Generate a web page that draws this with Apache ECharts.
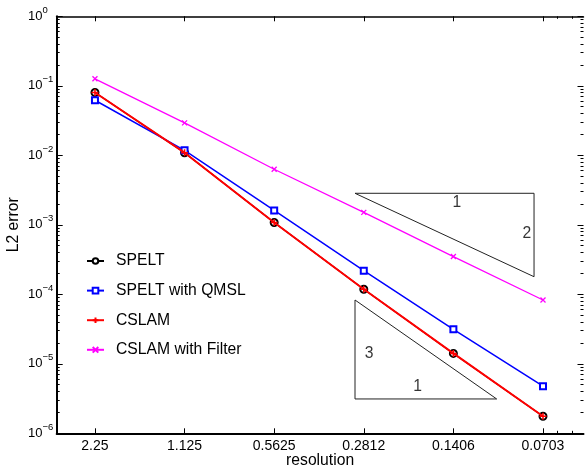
<!DOCTYPE html>
<html><head><meta charset="utf-8">
<script src="https://cdn.jsdelivr.net/npm/echarts@6/dist/echarts.min.js"></script>
<style>html,body{margin:0;padding:0;background:#fff}#c{width:585px;height:467px}</style>
</head><body><div id="c"></div><script>
const categories = ['2.25', '1.125', '0.5625', '0.2812', '0.1406', '0.0703'];
const spelt      = [0.080, 0.0109, 0.00108, 0.000118, 1.41e-5, 1.76e-6];
const speltQMSL  = [0.062, 0.0118, 0.00161, 0.000219, 3.13e-5, 4.76e-6];
const cslam      = [0.080, 0.0109, 0.00108, 0.000118, 1.41e-5, 1.76e-6];
const cslamFilt  = [0.126, 0.0293, 0.0063, 0.00151, 0.000349, 8.28e-5];
const yTicks = [1e-6, 1e-5, 1e-4, 1e-3, 1e-2, 1e-1, 1];
const xMinorTicks = [5.156, 5.324];
// slope triangles (data coordinates: category index, error)
const tri1 = [[2.902, 0.00284], [4.90, 0.00284], [4.90, 0.000179], [2.902, 0.00284]];
const tri2 = [[2.902, 8.28e-5], [2.902, 3.12e-6], [4.483, 3.12e-6], [2.902, 8.28e-5]];
const slopeText = [
  {name: '1', value: [4.04, 0.0021]},
  {name: '2', value: [4.82, 0.000734]},
  {name: '3', value: [3.06, 1.38e-5]},
  {name: '1', value: [3.60, 4.65e-6]}
];

const yMinor = [];
for (let e = -6; e < 0; e++) for (let m = 2; m <= 9; m++) yMinor.push(m * Math.pow(10, e));
const xIdx = categories.map((_, i) => i);
const FONT = 'Liberation Sans, Arial, Helvetica, sans-serif';
const toPts = arr => arr.map((v, i) => [i, v]);
const XMIN = -0.427, XMAX = 5.452;

function supLabel(v) {
  const e = Math.round(Math.log10(v));
  return '{b|10}{s|' + (e < 0 ? '\u2212' + (-e) : e) + '}';
}

const gridRect = {left: 56.7, right: 1.5, top: 16.3, bottom: 33.7, containLabel: false, outerBoundsMode: 'none'};
function xAx(gridIndex, position, ticks, len, line) {
  return {type: 'value', min: XMIN, max: XMAX, gridIndex: gridIndex, position: position,
    splitLine: {show: false},
    axisLine: line ? {show: true, onZero: false, lineStyle: {color: '#000', width: line}} : {show: false, onZero: false},
    axisTick: ticks ? {show: true, inside: true, length: len, customValues: ticks, lineStyle: {color: '#000', width: 1}} : {show: false},
    axisLabel: {show: false}};
}
function yAx(gridIndex, position, ticks, len, line) {
  return {type: 'log', logBase: 10, min: 1e-6, max: 1, gridIndex: gridIndex, position: position,
    splitLine: {show: false},
    axisLine: line ? {show: true, onZero: false, lineStyle: {color: '#000', width: line}} : {show: false, onZero: false},
    axisTick: ticks ? {show: true, inside: true, length: len, customValues: ticks, lineStyle: {color: '#000', width: 1}} : {show: false},
    axisLabel: {show: false}};
}

const xMain = xAx(0, 'bottom', null, 0, 2);
xMain.name = 'resolution';
xMain.nameLocation = 'middle';
xMain.nameGap = 19;
xMain.nameMoveOverlap = false;
xMain.nameTextStyle = {fontSize: 15.7, color: '#000', fontFamily: FONT};
xMain.axisLabel = {show: true, customValues: xIdx, margin: 6, fontSize: 14, color: '#000', fontFamily: FONT,
  formatter: v => categories[Math.round(v)]};

const yMain = yAx(0, 'left', null, 0, 2);
yMain.name = 'L2 error';
yMain.nameLocation = 'middle';
yMain.nameGap = 35;
yMain.nameMoveOverlap = false;
yMain.nameTextStyle = {fontSize: 15.7, color: '#000', fontFamily: FONT};
yMain.axisLabel = {show: true, customValues: yTicks, align: 'left', margin: 28.7, color: '#000',
  formatter: supLabel,
  rich: {
    b: {fontSize: 13, color: '#000', fontFamily: FONT},
    s: {fontSize: 9.5, color: '#000', fontFamily: FONT, padding: [0, 0, 12, 0]}
  }};

const option = {
  animation: false,
  backgroundColor: '#fff',
  textStyle: {fontFamily: FONT},
  grid: [Object.assign({}, gridRect), Object.assign({}, gridRect), Object.assign({}, gridRect)],
  legend: {
    orient: 'vertical', left: 81, top: 248,
    itemWidth: 17, itemHeight: 7, itemGap: 13.6,
    data: ['SPELT', 'SPELT with QMSL', 'CSLAM', 'CSLAM with Filter'],
    textStyle: {fontSize: 15.7, color: '#000', fontFamily: FONT, lineHeight: 16, padding: [0, 0, 0, 7]}
  },
  xAxis: [
    xMain,
    xAx(0, 'top', xIdx, 5, 1.5),
    xAx(1, 'bottom', xIdx, 5, 0),
    xAx(1, 'top', xMinorTicks, 2.5, 0),
    xAx(2, 'bottom', xMinorTicks, 2.5, 0),
    xAx(2, 'top', null, 0, 0)
  ],
  yAxis: [
    yMain,
    yAx(0, 'right', yTicks, 6, 0),
    yAx(1, 'left', yTicks, 6, 0),
    yAx(1, 'right', yMinor, 3, 0),
    yAx(2, 'left', yMinor, 3, 0),
    yAx(2, 'right', null, 0, 0)
  ],
  series: [
    {type: 'line', name: 'tri1', data: tri1, symbol: 'none', silent: true, z: 1,
      lineStyle: {color: '#222', width: 1}},
    {type: 'line', name: 'tri2', data: tri2, symbol: 'none', silent: true, z: 1,
      lineStyle: {color: '#222', width: 1}},
    {type: 'scatter', name: 'slopes', data: slopeText, symbolSize: 1, silent: true, z: 1,
      itemStyle: {color: 'rgba(0,0,0,0)'},
      label: {show: true, position: 'inside', formatter: p => p.name, fontSize: 15.7, color: '#000', fontFamily: FONT}},
    {type: 'line', name: 'SPELT', data: toPts(spelt), z: 2,
      symbol: 'emptyCircle', symbolSize: 7,
      lineStyle: {color: '#000', width: 1.3},
      itemStyle: {color: '#000', borderColor: '#000', borderWidth: 1.3}},
    {type: 'line', name: 'SPELT with QMSL', data: toPts(speltQMSL), z: 3,
      symbol: 'emptyRect', symbolSize: 6,
      lineStyle: {color: '#0000ff', width: 1.5},
      itemStyle: {color: '#0000ff', borderColor: '#0000ff', borderWidth: 1.3}},
    {type: 'line', name: 'CSLAM', data: toPts(cslam), z: 4,
      symbol: 'path://M0,5L10,5M5,0L5,10', symbolSize: 7,
      lineStyle: {color: '#ff0000', width: 2},
      itemStyle: {color: '#ff0000', borderColor: '#ff0000', borderWidth: 1.5}},
    {type: 'line', name: 'CSLAM with Filter', data: toPts(cslamFilt), z: 5,
      symbol: 'path://M0,0L10,10M10,0L0,10', symbolSize: 5,
      lineStyle: {color: '#ff00ff', width: 1.3},
      itemStyle: {color: '#ff00ff', borderColor: '#ff00ff', borderWidth: 1.3}}
  ]
};
const chart = echarts.init(document.getElementById('c'), null, {renderer: 'canvas'});
chart.setOption(option);
</script></body></html>
